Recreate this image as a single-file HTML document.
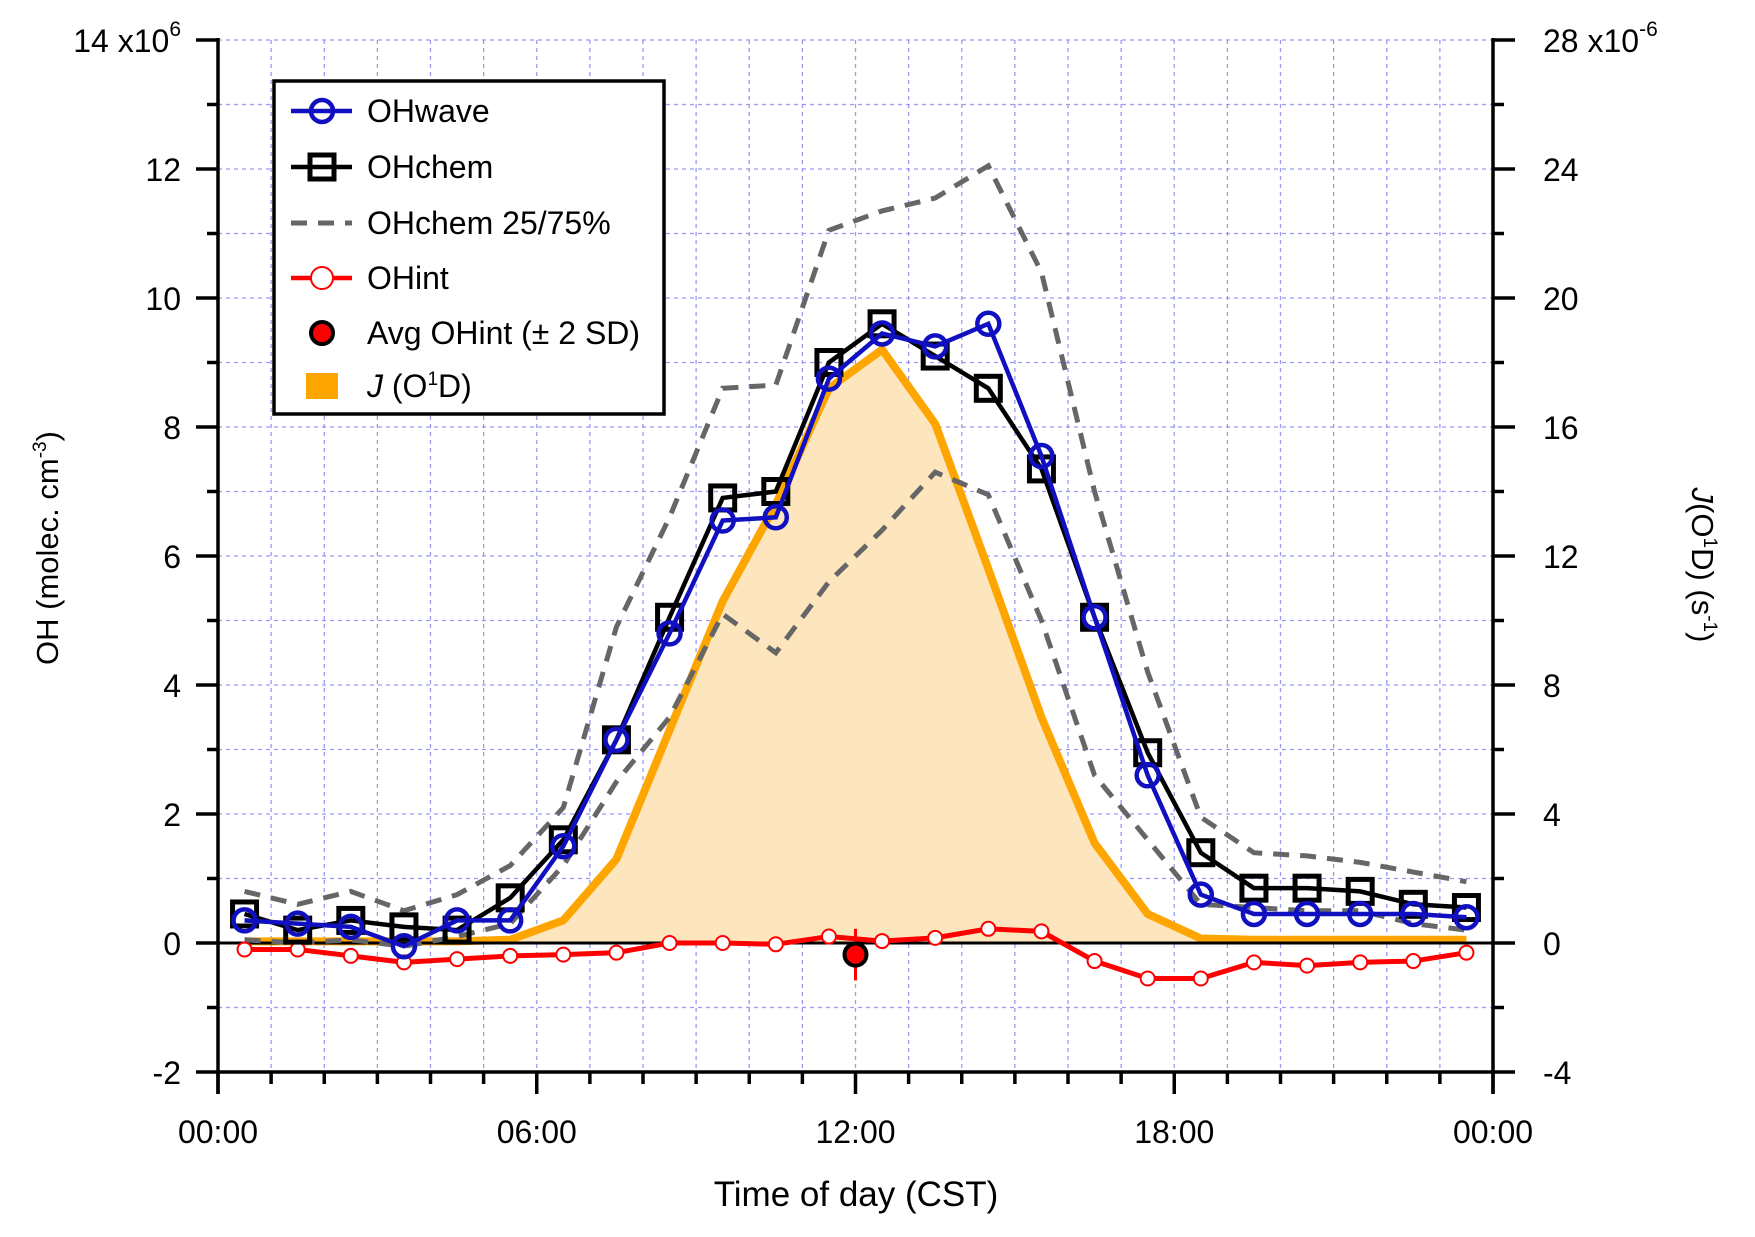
<!DOCTYPE html>
<html><head><meta charset="utf-8"><style>
body{margin:0;background:#fff}
svg text{font-family:"Liberation Sans",sans-serif;fill:#000}
</style></head><body>
<svg id="chart" width="1755" height="1232" viewBox="0 0 1755 1232" xmlns="http://www.w3.org/2000/svg">
<g id="grid"></g>
<g id="marks"></g>
<g id="axes"></g>
<g id="legend"></g>
</svg>
<script>
const hours=[0.5,1.5,2.5,3.5,4.5,5.5,6.5,7.5,8.5,9.5,10.5,11.5,12.5,13.5,14.5,15.5,16.5,17.5,18.5,19.5,20.5,21.5,22.5,23.5];
const ohWave=[0.35,0.3,0.25,-0.05,0.35,0.35,1.5,3.15,4.8,6.55,6.6,8.75,9.45,9.25,9.6,7.55,5.05,2.6,0.75,0.45,0.45,0.45,0.45,0.4];
const ohChem=[0.45,0.2,0.35,0.25,0.2,0.7,1.6,3.15,5.05,6.9,7.0,9.0,9.6,9.1,8.6,7.35,5.05,2.95,1.4,0.85,0.85,0.8,0.6,0.55];
const ohChem75=[0.8,0.6,0.8,0.5,0.75,1.2,2.1,4.9,6.6,8.6,8.65,11.05,11.35,11.55,12.05,10.4,7.0,4.2,1.95,1.4,1.35,1.25,1.1,0.95];
const ohChem25=[0.05,0.0,0.05,-0.05,0.1,0.3,1.2,2.5,3.5,5.1,4.5,5.6,6.4,7.3,6.95,5.0,2.6,1.6,0.6,0.55,0.5,0.5,0.3,0.2];
const ohInt=[-0.1,-0.1,-0.2,-0.3,-0.25,-0.2,-0.18,-0.15,0.0,0.0,-0.02,0.1,0.03,0.08,0.22,0.18,-0.28,-0.55,-0.55,-0.3,-0.35,-0.3,-0.28,-0.15];
const jO1D=[0.05,0.05,0.05,0.05,0.05,0.1,0.7,2.6,6.6,10.6,13.6,17.2,18.4,16.1,11.6,7.0,3.1,0.9,0.14,0.1,0.1,0.1,0.1,0.1];
const avgHour=[12];
const avgOhInt=[-0.18];
const avgSD=[0.4];
const leftTicks=[-2,0,2,4,6,8,10,12,14];
const rightTicks=[-4,0,4,8,12,16,20,24,28];
const xTickHours=[0,6,12,18,24];
const xTickLabels=["00:00","06:00","12:00","18:00","00:00"];

const NS="http://www.w3.org/2000/svg";
const X0=218,X1=1493,Ybot=1072,Ytop=40;
const X=h=>X0+h*(X1-X0)/24;
const Y=v=>943-v*64.5;
const YR=j=>Y(j/2);
function mk(parent,tag,attrs){const e=document.createElementNS(NS,tag);for(const k in attrs)e.setAttribute(k,attrs[k]);parent.appendChild(e);return e;}
const grid=document.getElementById('grid'),marks=document.getElementById('marks'),axes=document.getElementById('axes'),leg=document.getElementById('legend');

for(let h=1;h<24;h++){const l=mk(grid,'line',{x1:X(h),x2:X(h),y1:Ytop,y2:Ybot,stroke:'#9a9af5','stroke-width':1.3,'stroke-dasharray':'4 4'});

}
for(let v=-1;v<=14;v++){if(v===0)continue;const l=mk(grid,'line',{x1:X0,x2:X1,y1:Y(v),y2:Y(v),stroke:'#9a9af5','stroke-width':1.3,'stroke-dasharray':'4 4'});

}

let ap=`M${X(hours[0])},${Y(0)} `+hours.map((h,i)=>`L${X(h)},${YR(jO1D[i])}`).join(' ')+` L${X(hours[hours.length-1])},${Y(0)} Z`;
const area=mk(marks,'path',{d:ap,fill:'#fde6bd'});


const pl=(arr,f)=>hours.map((h,i)=>`${X(h)},${f(arr[i])}`).join(' ');
const jl=mk(marks,'polyline',{points:pl(jO1D,YR),fill:'none',stroke:'#ffa500','stroke-width':8,'stroke-linejoin':'round'});


const z=mk(marks,'line',{x1:X0,x2:X1,y1:Y(0),y2:Y(0),stroke:'#000','stroke-width':3});


for(const [arr,nm] of [[ohChem75,'ohchem-75-line'],[ohChem25,'ohchem-25-line']]){
const d=mk(marks,'polyline',{points:pl(arr,Y),fill:'none',stroke:'#666','stroke-width':5,'stroke-dasharray':'16 11'});

}
const ri=mk(marks,'polyline',{points:pl(ohInt,Y),fill:'none',stroke:'#f00','stroke-width':5});


hours.forEach((h,i)=>{const c=mk(marks,'circle',{cx:X(h),cy:Y(ohInt[i]),r:7,fill:'#fff',stroke:'#f00','stroke-width':2});

});
const cl=mk(marks,'polyline',{points:pl(ohChem,Y),fill:'none',stroke:'#000','stroke-width':4.5});


hours.forEach((h,i)=>{const s=mk(marks,'rect',{x:X(h)-12,y:Y(ohChem[i])-12,width:24,height:24,fill:'none',stroke:'#000','stroke-width':5});

});
const bl=mk(marks,'polyline',{points:pl(ohWave,Y),fill:'none',stroke:'#1010c0','stroke-width':4.5});


hours.forEach((h,i)=>{const c=mk(marks,'circle',{cx:X(h),cy:Y(ohWave[i]),r:11,fill:'none',stroke:'#1010c0','stroke-width':4.5});

});
avgHour.forEach((h,i)=>{const e=mk(marks,'line',{x1:X(h),x2:X(h),y1:Y(avgOhInt[i]+avgSD[i]),y2:Y(avgOhInt[i]-avgSD[i]),stroke:'#f00','stroke-width':3});


const c=mk(marks,'circle',{cx:X(h),cy:Y(avgOhInt[i]),r:11,fill:'#f00',stroke:'#000','stroke-width':4});

});

const ax=(a,n)=>{const l=mk(axes,'line',Object.assign({stroke:'#000','stroke-width':3.5},a));};
ax({x1:X0,x2:X0,y1:Ytop-2,y2:Ybot+22},'left-axis');
ax({x1:X1,x2:X1,y1:Ytop-2,y2:Ybot+22},'right-axis');
ax({x1:X0,x2:X1,y1:Ybot,y2:Ybot},'bottom-axis');
for(let v=-2;v<=14;v++){const L=v%2===0?22:11;
ax({x1:X0-L,x2:X0,y1:Y(v),y2:Y(v)},'left-tick');
ax({x1:X1,x2:X1+L,y1:Y(v),y2:Y(v)},'right-tick');}
for(let h=0;h<=24;h++){const L=h%6===0?22:12;ax({x1:X(h),x2:X(h),y1:Ybot,y2:Ybot+L},'bottom-tick');}
function tx(p,x,y,s,anchor,name,size){const t=mk(p,'text',{x:x,y:y,'text-anchor':anchor,'font-size':size||32});t.textContent=s;

return t;}
leftTicks.forEach(v=>{if(v===14)return;tx(axes,181,Y(v)+12,String(v),'end','left-tick-label');});
rightTicks.forEach(v=>{if(v===28)return;tx(axes,1543,Y(v/2)+12,String(v),'start','right-tick-label');});
const lt=mk(axes,'text',{x:181,y:Y(14)+12,'text-anchor':'end','font-size':32});
lt.innerHTML='14 x10<tspan dy="-16" font-size="21">6</tspan>';


const rt=mk(axes,'text',{x:1543,y:Y(14)+12,'text-anchor':'start','font-size':32});
rt.innerHTML='28 x10<tspan dy="-16" font-size="21">-6</tspan>';


xTickHours.forEach((h,i)=>{tx(axes,X(h),1143,xTickLabels[i],'middle','x-tick-label');});
tx(axes,856,1206,'Time of day (CST)','middle','x-axis-title',35);
const yt=mk(axes,'text',{x:0,y:0,'font-size':31,'text-anchor':'middle',transform:'translate(58,548) rotate(-90)'});
yt.innerHTML='OH (molec. cm<tspan dy="-12" font-size="19">-3</tspan><tspan dy="12">)</tspan>';


const yr=mk(axes,'text',{x:0,y:0,'font-size':31,'text-anchor':'middle',transform:'translate(1692,565) rotate(90)'});
yr.innerHTML='<tspan font-style="italic">J</tspan>(O<tspan dy="-12" font-size="19">1</tspan><tspan dy="12">D) (s</tspan><tspan dy="-12" font-size="19">-1</tspan><tspan dy="12">)</tspan>';



const box=mk(leg,'rect',{x:274,y:81,width:390,height:333,fill:'#fff',stroke:'#000','stroke-width':3.5});


const ly=[111,167,223,278,333,386];
const names=['OHwave','OHchem','OHchem 25/75%','OHint','Avg OHint (± 2 SD)','J (O1D)'];
names.forEach((n,i)=>{const g=mk(leg,'g',{});


const y=ly[i],cx=322;
if(i===0){mk(g,'line',{x1:291,x2:352,y1:y,y2:y,stroke:'#1010c0','stroke-width':4.5});mk(g,'circle',{cx:cx,cy:y,r:11,fill:'none',stroke:'#1010c0','stroke-width':4.5});}
if(i===1){mk(g,'line',{x1:291,x2:352,y1:y,y2:y,stroke:'#000','stroke-width':4.5});mk(g,'rect',{x:cx-12,y:y-12,width:24,height:24,fill:'none',stroke:'#000','stroke-width':5});}
if(i===2){mk(g,'line',{x1:291,x2:352,y1:y,y2:y,stroke:'#666','stroke-width':5,'stroke-dasharray':'16 11'});}
if(i===3){mk(g,'line',{x1:291,x2:352,y1:y,y2:y,stroke:'#f00','stroke-width':4.5});mk(g,'circle',{cx:cx,cy:y,r:11,fill:'#fff',stroke:'#f00','stroke-width':2});}
if(i===4){mk(g,'circle',{cx:cx,cy:y,r:11,fill:'#f00',stroke:'#000','stroke-width':4});}
if(i===5){mk(g,'rect',{x:cx-16,y:y-13,width:32,height:26,fill:'#ffa500'});}
const t=mk(g,'text',{x:367,y:y+11,'font-size':32});
if(i===5)t.innerHTML='<tspan font-style="italic">J</tspan> (O<tspan dy="-12" font-size="19">1</tspan><tspan dy="12">D)</tspan>';else t.textContent=n;
});
</script>
</body></html>
